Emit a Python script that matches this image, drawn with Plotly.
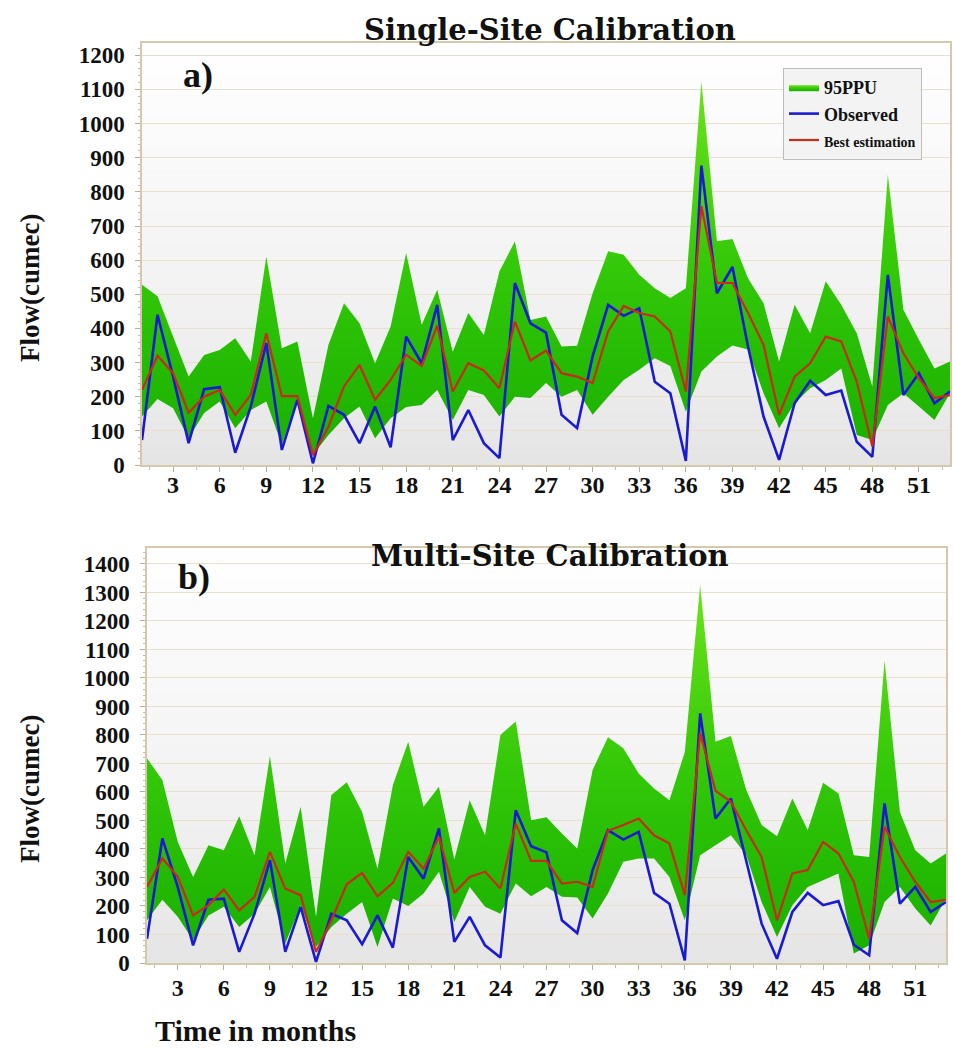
import plotly.graph_objects as go

months = list(range(1, 54))

# ---- a) Single-Site Calibration ----
a_upper = [528, 494, 376, 259, 322, 337, 371, 303, 611, 342, 362, 137, 352, 474, 415, 298, 406, 621,
           411, 513, 332, 445, 381, 567, 655, 425, 435, 347, 349, 503, 626, 616, 557, 518, 489, 518,
           1124, 655, 662, 547, 474, 303, 469, 386, 538, 469, 386, 230, 850, 455, 367, 283, 303]
a_lower = [142, 193, 166, 78, 152, 186, 108, 161, 186, 59, 196, 29, 88, 137, 171, 78, 137, 170,
           176, 220, 132, 220, 205, 142, 200, 196, 240, 200, 220, 147, 200, 249, 279, 313, 290, 156,
           274, 318, 350, 338, 210, 108, 181, 225, 249, 283, 88, 73, 176, 210, 171, 132, 210]
a_obs = [73, 440, 259, 64, 222, 228, 36, 171, 357, 44, 191, 5, 173, 147, 64, 171, 52, 376,
         298, 469, 73, 161, 64, 20, 533, 415, 388, 147, 108, 318, 469, 437, 459, 244, 210, 12,
         877, 503, 580, 347, 142, 15, 181, 247, 205, 218, 68, 24, 557, 205, 269, 181, 215]
a_best = [220, 320, 269, 153, 200, 220, 147, 205, 386, 202, 202, 29, 112, 230, 293, 191, 249, 323,
          290, 408, 215, 298, 277, 225, 420, 306, 335, 269, 259, 240, 391, 466, 445, 435, 391, 215,
          758, 533, 533, 445, 352, 147, 259, 298, 376, 362, 244, 54, 435, 327, 254, 196, 205]

# ---- b) Multi-Site Calibration ----
b_upper = [718, 642, 425, 302, 413, 396, 515, 378, 726, 349, 548, 162, 589, 634, 530, 331, 624, 776,
           548, 618, 363, 571, 448, 800, 847, 501, 511, 454, 402, 677, 792, 753, 665, 612, 571, 740,
           1327, 776, 796, 607, 484, 445, 577, 466, 632, 595, 378, 372, 1061, 530, 396, 349, 384]
b_lower = [150, 222, 162, 80, 167, 197, 126, 173, 267, 68, 203, 56, 126, 173, 214, 56, 226, 200,
           244, 320, 144, 267, 197, 173, 279, 234, 267, 232, 230, 156, 244, 355, 367, 367, 302, 150,
           378, 413, 448, 378, 214, 91, 203, 267, 290, 314, 33, 62, 214, 267, 191, 132, 226]
b_obs = [85, 437, 267, 62, 222, 226, 39, 173, 361, 39, 197, 4, 173, 150, 66, 167, 54, 372,
         296, 472, 74, 162, 62, 19, 536, 410, 388, 150, 105, 326, 466, 433, 460, 246, 208, 9,
         876, 507, 577, 361, 138, 15, 179, 246, 203, 217, 64, 27, 560, 208, 267, 179, 214]
b_best = [267, 367, 302, 167, 203, 258, 185, 232, 390, 261, 238, 39, 150, 276, 316, 234, 281, 390,
          331, 443, 246, 302, 320, 261, 489, 358, 358, 279, 285, 267, 464, 484, 507, 448, 419, 238,
          806, 604, 566, 466, 372, 150, 314, 326, 425, 384, 285, 85, 478, 372, 285, 214, 222]

x_ticks = list(range(3, 52, 3))
a_yticks = list(range(0, 1201, 100))
b_yticks = list(range(0, 1401, 100))

W, H = 953, 1061
SERIF = "Liberation Serif"
GREEN_SCALE = [[0, "#17ae00"], [0.5, "#33c808"], [1, "#6fe41e"]]
BLUE = "#1a1ad2"
RED = "#c92a1c"
FRAME = "#d6c9ab"
GRID = "#e9dfcb"

fig = go.Figure()


def add_panel(xa, ya, upper, lower, obs, best, top, legend):
    fig.add_trace(go.Scatter(x=months, y=lower, mode="lines", line=dict(width=0, color="#2cc000"),
                             showlegend=False, hoverinfo="skip", xaxis=xa, yaxis=ya))
    fig.add_trace(go.Scatter(x=months, y=upper, mode="lines", line=dict(width=0, color="#3fd00c"),
                             fill="tonexty",
                             fillgradient=dict(type="vertical", colorscale=GREEN_SCALE, start=0, stop=top),
                             name="95PPU", showlegend=legend, xaxis=xa, yaxis=ya))
    fig.add_trace(go.Scatter(x=months, y=obs, mode="lines", line=dict(width=2.6, color=BLUE),
                             name="Observed", showlegend=legend, xaxis=xa, yaxis=ya))
    fig.add_trace(go.Scatter(x=months, y=best, mode="lines", line=dict(width=2.2, color=RED),
                             name="<span style='font-size:14px'>Best estimation</span>",
                             showlegend=legend, xaxis=xa, yaxis=ya))


add_panel("x", "y", a_upper, a_lower, a_obs, a_best, 1150, True)
add_panel("x2", "y2", b_upper, b_lower, b_obs, b_best, 1350, False)

tickfont = dict(family=SERIF, size=23, color="#111111", weight="bold")


def xaxis(domain, anchor, standoff):
    return dict(domain=domain, anchor=anchor, range=[1, 53], tickvals=x_ticks,
                showgrid=False, zeroline=False, showline=True, linecolor=FRAME, linewidth=1.5,
                mirror=True, ticks="outside", ticklen=5, tickcolor="#b9ad92",
                minor=dict(dtick=1.5, ticks="outside", ticklen=3, tickcolor="#c9bea4"),
                tickfont=dict(family=SERIF, size=24, color="#111111", weight="bold"),
                ticklabelstandoff=standoff, fixedrange=True)


def yaxis(domain, anchor, rng, vals):
    return dict(domain=domain, anchor=anchor, range=rng, tickvals=vals,
                showgrid=True, gridcolor=GRID, gridwidth=1.2, zeroline=False,
                showline=True, linecolor=FRAME, linewidth=1.5, mirror=True,
                ticks="outside", ticklen=5, tickcolor="#b9ad92",
                minor=dict(dtick=20, ticks="outside", ticklen=2, tickcolor="#c9bea4", showgrid=False),
                tickfont=tickfont, ticklabelstandoff=6, fixedrange=True)


fig.update_layout(
    width=W, height=H,
    margin=dict(l=0, r=0, t=0, b=0, autoexpand=False),
    paper_bgcolor="white", plot_bgcolor="white",
    xaxis=xaxis([142 / W, 950 / W], "y", -8),
    yaxis=yaxis([1 - 465 / H, 1 - 43 / H], "x", [0, 1236], a_yticks),
    xaxis2=xaxis([147 / W, 946 / W], "y2", -3),
    yaxis2=yaxis([1 - 963 / H, 1 - 548 / H], "x2", [0, 1456], b_yticks),
    showlegend=True,
    legend=dict(x=783 / W, y=1 - 68 / H, xanchor="left", yanchor="top", traceorder="normal",
                bgcolor="#f3f3f3", bordercolor="#bdbdbd", borderwidth=1,
                font=dict(family=SERIF, size=18, color="#111111", weight="bold"),
                itemwidth=30, tracegroupgap=0),
)

# subtle vertical background gradient inside each plot area (white at top, light grey at bottom)
shapes = []
N = 40
for xr, yr in (("x domain", "y domain"), ("x2 domain", "y2 domain")):
    for i in range(N):
        f = (i + 0.5) / N
        g = int(round(228 + (255 - 228) * f ** 0.75))
        shapes.append(dict(type="rect", xref=xr, yref=yr, x0=0, x1=1, y0=i / N, y1=(i + 1) / N + 0.002,
                           fillcolor=f"rgb({g},{g},{g})", line=dict(width=0), layer="below"))
fig.update_layout(shapes=shapes)

ann = []
TITLE_FONT = dict(family="DejaVu Serif", size=29, color="#111111", weight="bold")
ann.append(dict(text="Single-Site Calibration", x=550 / W, y=1 - 30 / H, xref="paper", yref="paper",
                showarrow=False, font=TITLE_FONT, xanchor="center", yanchor="middle"))
ann.append(dict(text="Multi-Site Calibration", x=550 / W, y=1 - 556 / H, xref="paper", yref="paper",
                showarrow=False, font=TITLE_FONT, xanchor="center", yanchor="middle"))
ann.append(dict(text="a)", x=198 / W, y=1 - 75 / H, xref="paper", yref="paper", showarrow=False,
                font=dict(family=SERIF, size=36, color="#111111", weight="bold"),
                xanchor="center", yanchor="middle"))
ann.append(dict(text="b)", x=194 / W, y=1 - 577 / H, xref="paper", yref="paper", showarrow=False,
                font=dict(family=SERIF, size=36, color="#111111", weight="bold"),
                xanchor="center", yanchor="middle"))
for yc in (288, 789):
    ann.append(dict(text="Flow(cumec)", x=30 / W, y=1 - yc / H, xref="paper", yref="paper",
                    showarrow=False, textangle=-90,
                    font=dict(family=SERIF, size=27, color="#111111", weight="bold"),
                    xanchor="center", yanchor="middle"))
ann.append(dict(text="Time in months", x=153 / W, y=1 - 1030 / H, xref="paper", yref="paper",
                showarrow=False, font=dict(family=SERIF, size=30, color="#111111", weight="bold"),
                xanchor="left", yanchor="middle"))
fig.update_layout(annotations=ann)

fig.write_html("out.html")
